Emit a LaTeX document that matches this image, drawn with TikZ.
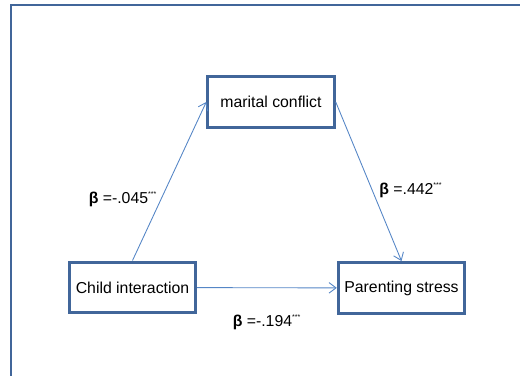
\documentclass[tikz,border=0pt]{standalone}
\usepackage{fontspec}
\setmainfont{Liberation Sans}
\usepackage{tikz}
\usetikzlibrary{arrows.meta}
\definecolor{framebl}{HTML}{41669A}
\definecolor{arrowbl}{HTML}{5586C6}
\tikzset{
    varbox/.style={shape=rectangle, draw=framebl, line width=1.7pt, minimum width=72pt, minimum height=29pt, inner sep=0pt, font=\fontsize{9}{10}\selectfont},
    patharrow/.style={->, >={Straight Barb[length=4pt,width=6pt]}, color=arrowbl, line width=0.5pt},
    betalabel/.style={font=\fontsize{9}{10}\selectfont}
}
\newcommand{\betaval}[1]{\textbf{β} =#1\textsuperscript{\fontsize{4}{4}\selectfont ***}}

\begin{document}
\begin{tikzpicture}[x=0.02cm, y=-0.02cm]
    \clip (0,0) rectangle (520,375);
    \draw[framebl, line width=1.7pt] (11,385) -- (11,5) -- (530,5);

    \node[varbox] (mc) at (271,102) {marital conflict};
    \node[varbox] (ci) at (132.5,287.5) {Child interaction};
    \node[varbox] (ps) at (401.5,288) {Parenting stress};

    \path [patharrow](ci.north) edge (mc.west);
    \path [patharrow](mc.east) edge (ps.north);
    \path [patharrow](ci) edge (ps);

    \node[betalabel] (b1) at (123,199) {\betaval{-.045}};
    \node[betalabel] (b2) at (411,190) {\betaval{.442}};
    \node[betalabel] (b3) at (267,322) {\betaval{-.194}};

\end{tikzpicture}
\end{document}
